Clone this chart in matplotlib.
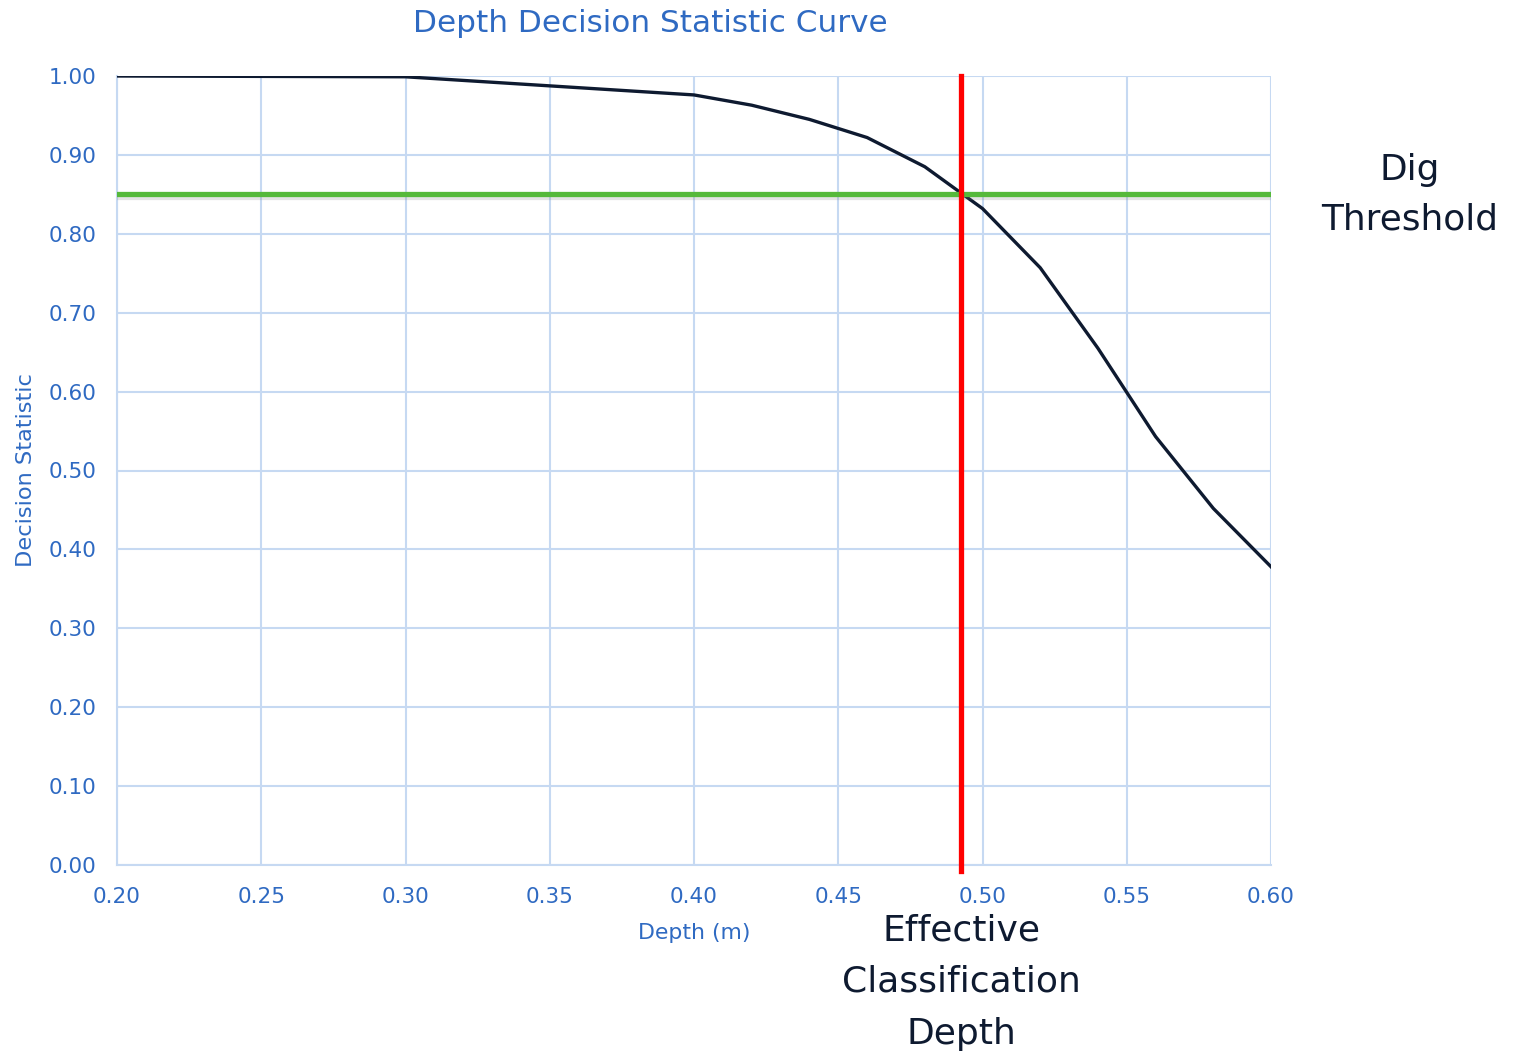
import matplotlib
matplotlib.use("Agg")
import matplotlib.pyplot as plt
import matplotlib.patheffects as pe

# Data
depth = [0.20, 0.30, 0.40, 0.42, 0.44, 0.46, 0.48, 0.50, 0.52, 0.54, 0.56, 0.58, 0.60]
decision = [1.000, 0.999, 0.976, 0.963, 0.945, 0.922, 0.885, 0.832, 0.757, 0.655, 0.543, 0.452, 0.378]
dig_threshold = 0.85
effective_depth = 0.4925
x_ticks = [0.20, 0.25, 0.30, 0.35, 0.40, 0.45, 0.50, 0.55, 0.60]
y_ticks = [0.0, 0.1, 0.2, 0.3, 0.4, 0.5, 0.6, 0.7, 0.8, 0.9, 1.0]

blue = "#2f6ac2"
grid = "#c6d9f2"
navy = "#0e1a30"

W, H = 1513, 1053
fig = plt.figure(figsize=(W / 100, H / 100), dpi=100)
ax = fig.add_axes([117 / W, 1 - 865 / H, (1271 - 117) / W, (865 - 76) / H])

ax.set_xlim(0.20, 0.60)
ax.set_ylim(0.0, 1.0)
ax.set_xticks(x_ticks)
ax.set_yticks(y_ticks)
ax.set_xticklabels([f"{v:.2f}" for v in x_ticks])
ax.set_yticklabels([f"{v:.2f}" for v in y_ticks])
ax.tick_params(length=0, labelsize=15.5, labelcolor=blue)
ax.tick_params(axis="x", pad=16)
ax.tick_params(axis="y", pad=15)
ax.grid(True, color=grid, linewidth=1.5)
ax.set_axisbelow(True)
for s in ["top", "right"]:
    ax.spines[s].set_visible(False)
for s in ["left", "bottom"]:
    ax.spines[s].set_color(grid)
    ax.spines[s].set_linewidth(1.5)

ax.plot(depth, decision, color=navy, linewidth=2.4, zorder=3, solid_joinstyle="round")

ax.axhline(dig_threshold, color="#55b93a", linewidth=3.8, zorder=4,
           path_effects=[pe.SimpleLineShadow(offset=(0, -2), shadow_color="#777777", alpha=0.2),
                         pe.Normal()])
ax.axvline(effective_depth, ymin=-0.007, ymax=1.0, color="#ff0000", linewidth=3.8, zorder=5,
           clip_on=False)

ax.set_xlabel("Depth (m)", fontsize=15.8, color=blue)
ax.xaxis.set_label_coords(0.5, -0.074)
ax.set_ylabel("Decision Statistic", fontsize=16.2, color=blue)
ax.yaxis.set_label_coords(-0.070, 0.5)

fig.text(650 / W, 1 - 23 / H, "Depth Decision Statistic Curve", fontsize=22.4, color=blue,
         ha="center", va="center")

fig.text(1410 / W, 1 - 195 / H, "Dig\nThreshold", fontsize=25.8, color=navy,
         ha="center", va="center", linespacing=1.58)
fig.text(961 / W, 1 - 982 / H, "Effective\nClassification\nDepth", fontsize=26, color=navy,
         ha="center", va="center", linespacing=1.65)

fig.savefig("out.png", dpi=100, facecolor="white")
